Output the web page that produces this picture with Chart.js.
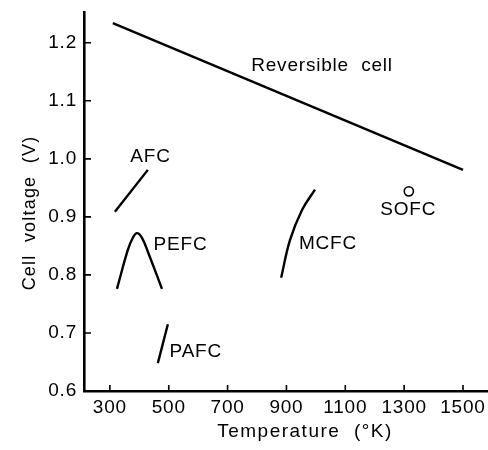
<!DOCTYPE html>
<html>
<head>
<meta charset="utf-8">
<script src="https://cdn.jsdelivr.net/npm/chart.js@4"></script>
<style>
  html, body { margin: 0; padding: 0; background: #fff; }
  #wrap { width: 488px; height: 450px; }
</style>
</head>
<body>
<div id="wrap"><canvas id="fc" width="488" height="450"></canvas></div>
<script>
// 数据 (温度 K, 电压 V)
const xTicks = [300, 500, 700, 900, 1100, 1300, 1500];
const yTicks = [0.6, 0.7, 0.8, 0.9, 1.0, 1.1, 1.2];

const reversibleT = [310, 1500];
const reversibleV = [1.234, 0.981];
const afcT = [317, 429];
const afcV = [0.909, 0.981];
const pefcT = [324, 361, 378, 392, 409, 429, 477];
const pefcV = [0.776, 0.843, 0.864, 0.872, 0.864, 0.840, 0.776];
const pafcT = [463, 497];
const pafcV = [0.648, 0.715];
const mcfcT = [882, 912, 953, 997];
const mcfcV = [0.795, 0.860, 0.912, 0.947];
const sofcT = [1316];
const sofcV = [0.944];

// 标注文字
const labelNames = ['Reversible  cell', 'AFC', 'PEFC', 'PAFC', 'MCFC', 'SOFC'];
const labelT = [1021, 438, 540, 592, 1041, 1314];
const labelV = [1.160, 1.003, 0.852, 0.667, 0.853, 0.912];

const FONT = '"Liberation Sans", Arial, Helvetica, sans-serif';

function pts(xs, ys) {
    return xs.map((x, i) => ({ x: x, y: ys[i] }));
}

function lineSet(xs, ys, tension) {
    return {
        data: pts(xs, ys),
        showLine: true,
        borderColor: '#000',
        borderWidth: 2.4,
        pointRadius: 0,
        tension: tension || 0,
        fill: false
    };
}

// 向内的刻度、坐标轴标题、曲线标注
const decorPlugin = {
    id: 'decor',
    beforeDraw(chart) {
        chart.ctx.letterSpacing = '0.8px';
    },
    afterDatasetsDraw(chart) {
        const ctx = chart.ctx;
        const xs = chart.scales.x;
        const ys = chart.scales.y;
        const area = chart.chartArea;
        ctx.save();
        ctx.strokeStyle = '#000';
        ctx.lineWidth = 1.6;
        ctx.beginPath();
        xTicks.forEach(t => {
            const px = xs.getPixelForValue(t);
            ctx.moveTo(px, area.bottom);
            ctx.lineTo(px, area.bottom - 6);
        });
        yTicks.forEach(t => {
            const py = ys.getPixelForValue(t);
            ctx.moveTo(area.left, py);
            ctx.lineTo(area.left + 7, py);
        });
        ctx.stroke();

        ctx.fillStyle = '#000';
        ctx.textAlign = 'center';
        ctx.textBaseline = 'middle';
        ctx.font = '19px ' + FONT;
        ctx.letterSpacing = '0.8px';
        labelNames.forEach((name, i) => {
            ctx.fillText(name, xs.getPixelForValue(labelT[i]), ys.getPixelForValue(labelV[i]));
        });

        ctx.letterSpacing = '1.5px';
        ctx.fillText('Temperature  (°K)', 305, 432);
        ctx.letterSpacing = '1.2px';
        ctx.font = '18px ' + FONT;
        ctx.translate(30, 213);
        ctx.rotate(-Math.PI / 2);
        ctx.fillText('Cell  voltage  (V)', 0, 0);
        ctx.restore();
    }
};

new Chart(document.getElementById('fc'), {
    type: 'scatter',
    data: {
        datasets: [
            lineSet(reversibleT, reversibleV),
            lineSet(afcT, afcV),
            lineSet(pefcT, pefcV, 0.4),
            lineSet(pafcT, pafcV),
            lineSet(mcfcT, mcfcV, 0.4),
            {
                data: pts(sofcT, sofcV),
                pointRadius: 4.6,
                pointBorderColor: '#000',
                pointBackgroundColor: '#fff',
                pointBorderWidth: 1.6,
                showLine: false
            }
        ]
    },
    options: {
        responsive: false,
        animation: false,
        layout: { autoPadding: false, padding: { top: 12, right: 0, left: 0, bottom: 0 } },
        plugins: {
            legend: { display: false },
            tooltip: { enabled: false }
        },
        scales: {
            x: {
                type: 'linear',
                min: 212,
                max: 1585,
                afterBuildTicks: s => { s.ticks = xTicks.map(v => ({ value: v })); },
                afterFit: s => { s.height = 59; s.paddingLeft = 0; s.paddingRight = 0; },
                grid: { drawOnChartArea: false, drawTicks: false },
                border: { color: '#000', width: 2.4 },
                ticks: {
                    color: '#000',
                    padding: 5,
                    font: { family: FONT, size: 19 },
                    callback: v => String(v)
                }
            },
            y: {
                type: 'linear',
                min: 0.6,
                max: 1.253,
                afterBuildTicks: s => { s.ticks = yTicks.map(v => ({ value: v })); },
                afterFit: s => { s.width = 84; s.paddingTop = 0; s.paddingBottom = 0; },
                grid: { drawOnChartArea: false, drawTicks: false },
                border: { color: '#000', width: 2.6 },
                ticks: {
                    color: '#000',
                    padding: 7,
                    font: { family: FONT, size: 19 },
                    callback: v => v.toFixed(1)
                }
            }
        }
    },
    plugins: [decorPlugin]
});
</script>
</body>
</html>
